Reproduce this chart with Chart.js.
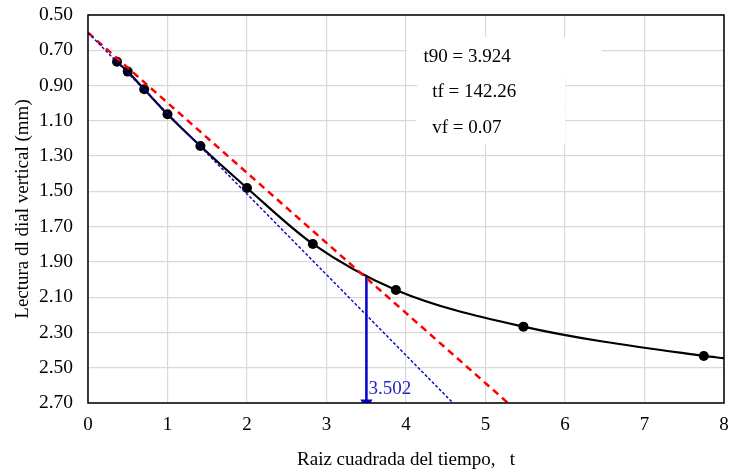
<!DOCTYPE html>
<html>
<head>
<meta charset="utf-8">
<script src="https://cdn.jsdelivr.net/npm/chart.js@4.4.1/dist/chart.umd.min.js"></script>
<style>
  html, body { margin: 0; padding: 0; background: #fff; }
  #wrap { width: 732px; height: 470px; }
</style>
</head>
<body>
<div id="wrap"><canvas id="c" width="732" height="470"></canvas></div>
<script>
'use strict'

// lecturas: raiz del tiempo vs lectura del dial
const sqrtT = [0.365, 0.5, 0.707, 1, 1.414, 2, 2.828, 3.873, 5.477, 7.746, 8];
const lectura = [0.765, 0.821, 0.921, 1.063, 1.243, 1.481, 1.798, 2.059, 2.267, 2.433, 2.446];
const markerCount = 10;

// rectas de Taylor
const redLineX = [0, 5.283];
const redLineY = [0.60, 2.70];
const blueLineX = [0, 4.591];
const blueLineY = [0.60, 2.70];

// t90
const tCross = 3.502;
const yCross = 1.985;
const arrowX = [tCross, tCross];
const arrowY = [yCross, 2.70];

const xTicks = [0, 1, 2, 3, 4, 5, 6, 7, 8];
const yTicks = [0.5, 0.7, 0.9, 1.1, 1.3, 1.5, 1.7, 1.9, 2.1, 2.3, 2.5, 2.7];

const notes = [
  { text: 't90 = 3.924', x: 4.22, y: 0.738, box: [4.01, 6.46, 0.625, 0.84] },
  { text: 'tf = 142.26', x: 4.33, y: 0.938, box: [4.14, 6.0, 0.84, 1.04] },
  { text: 'vf = 0.07', x: 4.33, y: 1.138, box: [4.12, 6.0, 1.04, 1.235] }
];

const pts = (xs, ys) => xs.map((x, i) => ({ x: x, y: ys[i] }));

const serif = '"Liberation Serif", "Times New Roman", serif';

const frame = {
  id: 'frame',
  beforeDatasetsDraw(chart) {
    const { ctx, scales: { x, y } } = chart;
    ctx.save();
    ctx.fillStyle = '#ffffff';
    notes.forEach(n => {
      const x0 = x.getPixelForValue(n.box[0]);
      const x1 = x.getPixelForValue(n.box[1]);
      const y0 = y.getPixelForValue(n.box[2]);
      const y1 = y.getPixelForValue(n.box[3]);
      ctx.fillRect(x0, y0, x1 - x0, y1 - y0);
    });
    ctx.restore();
  },
  afterDatasetsDraw(chart) {
    const { ctx, chartArea: a, scales: { x, y } } = chart;
    ctx.save();
    ctx.strokeStyle = '#000';
    ctx.lineWidth = 1.5;
    ctx.strokeRect(a.left, a.top, a.right - a.left, a.bottom - a.top);

    ctx.font = '19px ' + serif;
    ctx.fillStyle = '#000';
    ctx.textBaseline = 'middle';
    ctx.textAlign = 'left';
    notes.forEach(n => {
      ctx.fillText(n.text, x.getPixelForValue(n.x), y.getPixelForValue(n.y));
    });

    ctx.fillStyle = '#1f1fd0';
    ctx.fillText(tCross.toFixed(3), x.getPixelForValue(tCross) + 2, y.getPixelForValue(2.62));
    ctx.restore();
  }
};

new Chart(document.getElementById('c'), {
  type: 'scatter',
  data: {
    datasets: [
      {
        data: pts(blueLineX, blueLineY),
        showLine: true,
        borderColor: '#0000cc',
        borderWidth: 1.4,
        borderDash: [3, 2],
        pointRadius: 0
      },
      {
        data: pts(redLineX, redLineY),
        showLine: true,
        borderColor: '#ff0000',
        borderWidth: 2.5,
        borderDash: [7, 5],
        pointRadius: 0
      },
      {
        data: pts(sqrtT, lectura),
        showLine: true,
        borderColor: '#000',
        borderWidth: 2.2,
        tension: 0.4,
        cubicInterpolationMode: 'monotone',
        backgroundColor: '#000',
        pointRadius: sqrtT.map((v, i) => i < markerCount ? 5 : 0),
        pointBorderWidth: 0
      },
      {
        data: pts(arrowX, arrowY),
        showLine: true,
        borderColor: '#0000cc',
        borderWidth: 2.5,
        backgroundColor: '#0000cc',
        pointStyle: 'triangle',
        pointRotation: 180,
        pointRadius: [0, 7],
        pointBorderWidth: 0
      }
    ]
  },
  options: {
    responsive: false,
    animation: false,
    events: [],
    layout: { padding: { top: 15, right: 8, left: 0, bottom: 0 } },
    plugins: {
      legend: { display: false },
      tooltip: { enabled: false }
    },
    scales: {
      x: {
        type: 'linear',
        min: 0,
        max: 8,
        afterBuildTicks: s => { s.ticks = xTicks.map(v => ({ value: v })); },
        afterFit: s => { s.height = 67; s.paddingLeft = 0; s.paddingRight = 0; },
        grid: { color: '#d9d9d9', lineWidth: 1.2, drawTicks: false },
        border: { display: false },
        ticks: {
          padding: 11,
          color: '#000',
          font: { family: serif, size: 19 }
        },
        title: {
          display: true,
          text: 'Raiz cuadrada del tiempo,   t',
          color: '#000',
          font: { family: serif, size: 19, lineHeight: 1.0 },
          padding: { top: 4, bottom: 0 }
        }
      },
      y: {
        type: 'linear',
        reverse: true,
        min: 0.5,
        max: 2.7,
        afterBuildTicks: s => { s.ticks = yTicks.map(v => ({ value: v })); },
        afterFit: s => { s.width = 88; s.paddingTop = 0; s.paddingBottom = 0; },
        grid: { color: '#d9d9d9', lineWidth: 1.2, drawTicks: false },
        border: { display: false },
        ticks: {
          padding: 15,
          color: '#000',
          font: { family: serif, size: 19.5 },
          callback: v => Number(v).toFixed(2)
        },
        title: {
          display: true,
          text: 'Lectura dl dial vertical (mm)',
          color: '#000',
          font: { family: serif, size: 19 },
          padding: { top: 12, bottom: 0 }
        }
      }
    }
  },
  plugins: [frame]
});
</script>
</body>
</html>
